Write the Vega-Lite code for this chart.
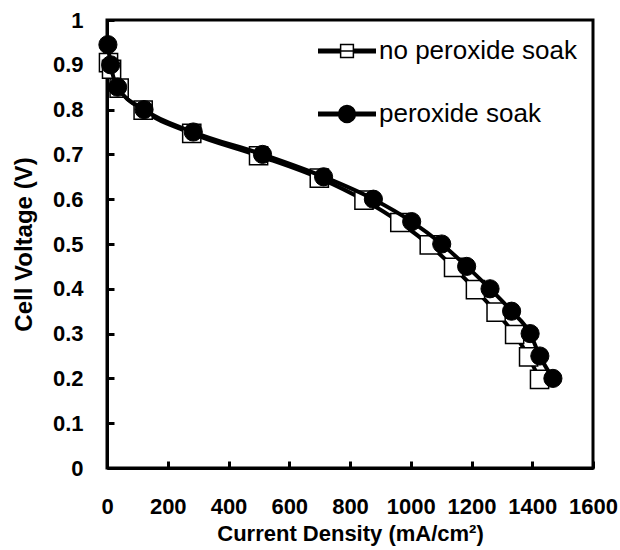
{
  "$schema": "https://vega.github.io/schema/vega-lite/v6.json",
  "width": 486,
  "height": 448,
  "autosize": {"type": "none"},
  "padding": {"left": 107, "top": 20, "right": 27, "bottom": 82},
  "background": "white",
  "config": {
    "view": {"stroke": "black", "strokeWidth": 3},
    "font": "Liberation Sans",
    "axis": {
      "grid": false,
      "domainColor": "black",
      "domainWidth": 3,
      "tickColor": "black",
      "tickWidth": 3,
      "tickSize": -7,
      "labelFont": "Liberation Sans",
      "labelFontWeight": "bold",
      "labelFontSize": 22,
      "labelColor": "black",
      "labelOverlap": false,
      "labelFlush": false,
      "titleFont": "Liberation Sans",
      "titleFontWeight": "bold",
      "titleColor": "black"
    }
  },
  "data": {
    "values": [
      {"series": "no peroxide soak", "j": 5, "v": 0.905},
      {"series": "no peroxide soak", "j": 15, "v": 0.89},
      {"series": "no peroxide soak", "j": 40, "v": 0.848},
      {"series": "no peroxide soak", "j": 119, "v": 0.799},
      {"series": "no peroxide soak", "j": 279, "v": 0.747},
      {"series": "no peroxide soak", "j": 499, "v": 0.697},
      {"series": "no peroxide soak", "j": 699, "v": 0.647},
      {"series": "no peroxide soak", "j": 846, "v": 0.598},
      {"series": "no peroxide soak", "j": 964, "v": 0.548},
      {"series": "no peroxide soak", "j": 1061, "v": 0.498},
      {"series": "no peroxide soak", "j": 1141, "v": 0.448},
      {"series": "no peroxide soak", "j": 1213, "v": 0.398},
      {"series": "no peroxide soak", "j": 1281, "v": 0.348},
      {"series": "no peroxide soak", "j": 1342, "v": 0.298},
      {"series": "no peroxide soak", "j": 1388, "v": 0.248},
      {"series": "no peroxide soak", "j": 1424, "v": 0.198},
      {"series": "peroxide soak", "j": 3, "v": 0.945},
      {"series": "peroxide soak", "j": 12, "v": 0.9},
      {"series": "peroxide soak", "j": 35, "v": 0.85},
      {"series": "peroxide soak", "j": 122, "v": 0.8},
      {"series": "peroxide soak", "j": 284, "v": 0.75},
      {"series": "peroxide soak", "j": 512, "v": 0.7},
      {"series": "peroxide soak", "j": 713, "v": 0.65},
      {"series": "peroxide soak", "j": 877, "v": 0.6},
      {"series": "peroxide soak", "j": 1003, "v": 0.55},
      {"series": "peroxide soak", "j": 1102, "v": 0.5},
      {"series": "peroxide soak", "j": 1184, "v": 0.45},
      {"series": "peroxide soak", "j": 1261, "v": 0.4},
      {"series": "peroxide soak", "j": 1332, "v": 0.35},
      {"series": "peroxide soak", "j": 1393, "v": 0.3},
      {"series": "peroxide soak", "j": 1425, "v": 0.25},
      {"series": "peroxide soak", "j": 1468, "v": 0.2}
    ]
  },
  "encoding": {
    "x": {
      "field": "j", "type": "quantitative",
      "scale": {"domain": [0, 1600], "nice": false},
      "axis": {"values": [0, 200, 400, 600, 800, 1000, 1200, 1400, 1600], "format": "d", "labelPadding": 35, "title": "Current Density (mA/cm²)", "titleFontSize": 22, "titlePadding": 6}
    },
    "y": {
      "field": "v", "type": "quantitative",
      "scale": {"domain": [0, 1], "nice": false},
      "axis": {"values": [0, 0.1, 0.2, 0.3, 0.4, 0.5, 0.6, 0.7, 0.8, 0.9, 1], "format": "~g", "labelPadding": 31, "title": "Cell Voltage (V)", "titleFontSize": 24, "titlePadding": 16}
    }
  },
  "layer": [
    {
      "mark": {"type": "line", "interpolate": "monotone", "strokeWidth": 4, "color": "black"},
      "transform": [{"filter": "datum.series === 'no peroxide soak'"}],
      "encoding": {
        "color": {
          "field": "series", "type": "nominal",
          "scale": {"domain": ["no peroxide soak", "peroxide soak"], "range": ["black", "black"]},
          "legend": {
            "title": null,
            "orient": "none",
            "legendX": 210,
            "legendY": 1,
            "symbolSize": 3364,
            "rowPadding": 20,
            "labelFont": "Liberation Sans",
            "labelFontSize": 26,
            "labelLimit": 400,
            "labelColor": "black",
            "labelOffset": 2,
            "values": ["no peroxide soak", "peroxide soak"],
            "encode": {
              "symbols": {
                "update": {
                  "shape": {"signal": "datum.value === 'no peroxide soak' ? 'M-1,-0.06H-0.22M-1,-0.03H-0.22M-1,0H-0.22M-1,0.03H-0.22M-1,0.06H-0.22M0.22,-0.06H1M0.22,-0.03H1M0.22,0H1M0.22,0.03H1M0.22,0.06H1M-0.22,0H0.22M-0.22,-0.22H0.22V0.22H-0.22Z' : 'M-1,-0.06H1M-1,-0.03H1M-1,0H1M-1,0.03H1M-1,0.06H1M-0.29,0A0.29,0.29,0,1,0,0.29,0A0.29,0.29,0,1,0,-0.29,0Z'"},
                  "fill": {"signal": "datum.value === 'no peroxide soak' ? 'white' : 'black'"},
                  "fillOpacity": {"value": 1},
                  "stroke": {"value": "black"},
                  "strokeWidth": {"value": 1.5},
                  "strokeDash": {"value": []},
                  "opacity": {"value": 1}
                }
              }
            }
          }
        }
      }
    },
    {
      "mark": {"type": "point", "shape": "square", "size": 330, "filled": true, "fill": "white", "stroke": "black", "strokeWidth": 1.5, "opacity": 1},
      "transform": [{"filter": "datum.series === 'no peroxide soak'"}]
    },
    {
      "mark": {"type": "line", "interpolate": "monotone", "strokeWidth": 4, "color": "black"},
      "transform": [{"filter": "datum.series === 'peroxide soak'"}]
    },
    {
      "mark": {"type": "point", "shape": "circle", "size": 330, "filled": true, "fill": "black", "stroke": "black", "strokeWidth": 1, "opacity": 1},
      "transform": [{"filter": "datum.series === 'peroxide soak'"}]
    }
  ]
}
